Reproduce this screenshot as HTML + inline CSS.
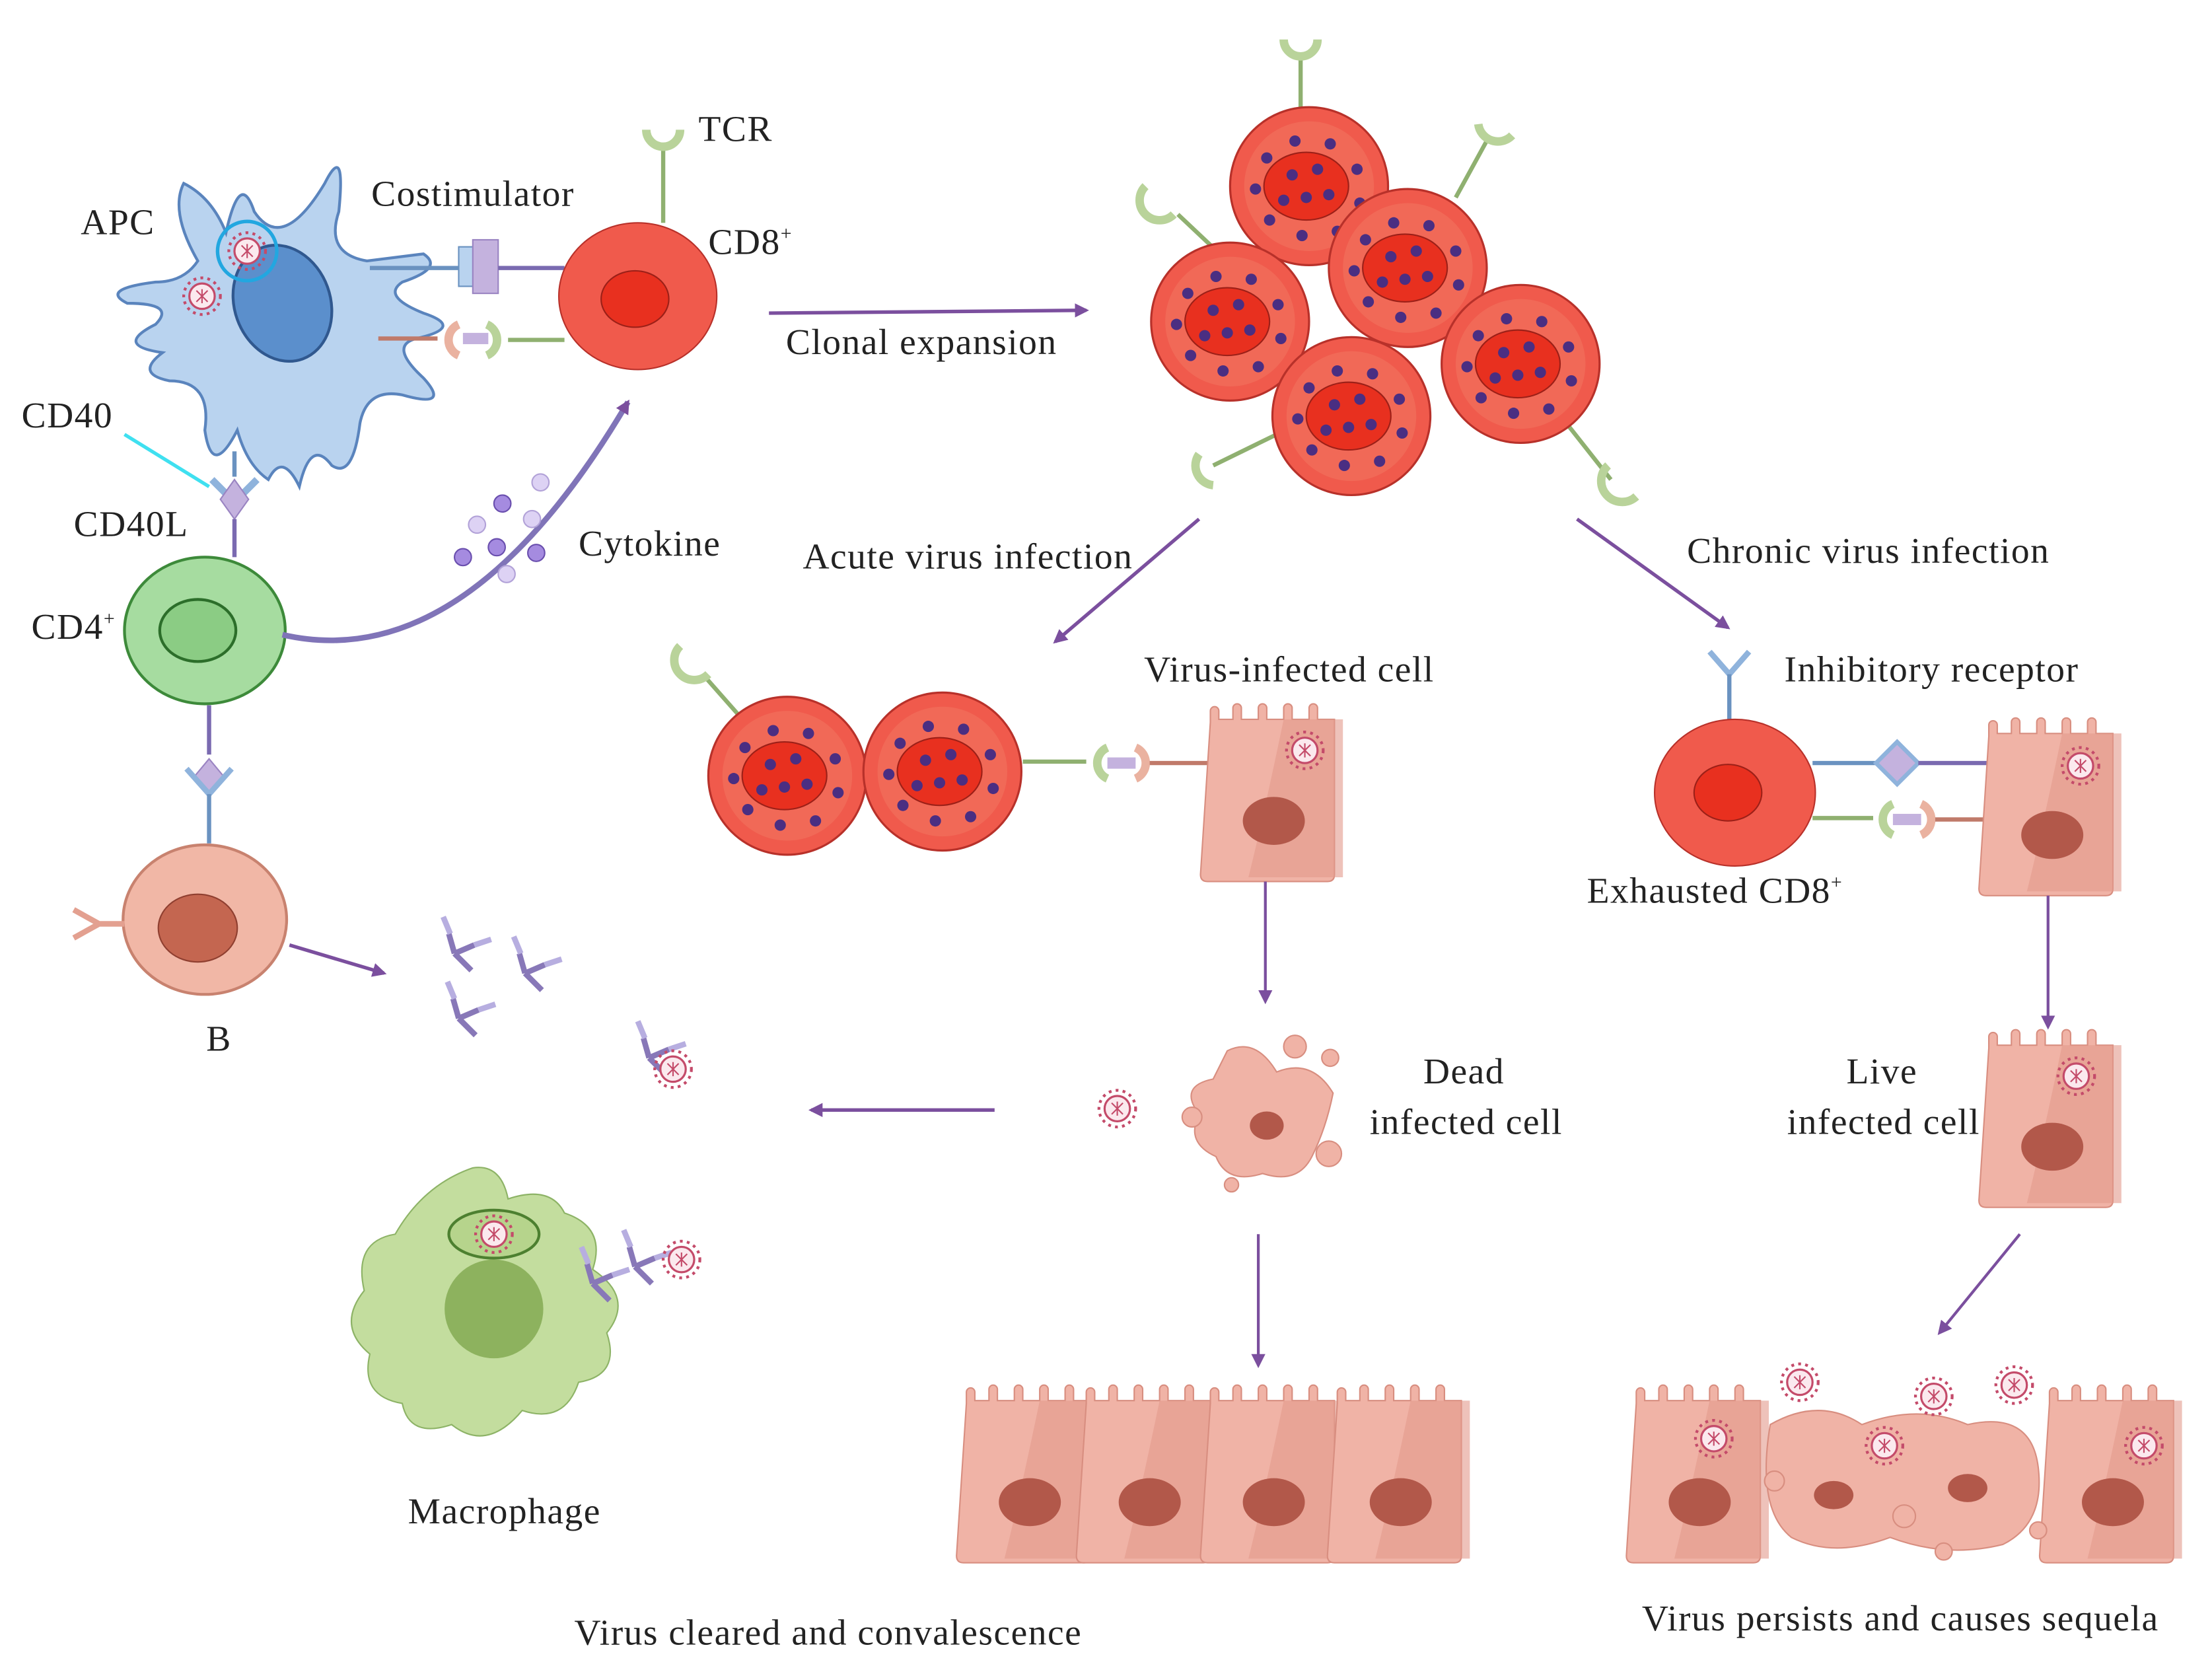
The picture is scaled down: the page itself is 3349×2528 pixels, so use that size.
<!DOCTYPE html>
<html><head><meta charset="utf-8"><style>html,body{margin:0;padding:0;background:#fff}svg{display:block}text{font-family:"Liberation Serif",serif;font-size:26px;letter-spacing:0.7px;fill:#222}</style></head><body>
<svg width="3349" height="2528" viewBox="0 0 1568 1184" xmlns="http://www.w3.org/2000/svg">
<defs>
<marker id="ah" markerWidth="10" markerHeight="10" refX="8" refY="5" orient="auto" markerUnits="userSpaceOnUse"><path d="M0,0 L10,5 L0,10 z" fill="#7b4f9e"/></marker>
<g id="vir"><circle r="13" fill="none" stroke="#c44b6a" stroke-width="2" stroke-dasharray="2 3"/><circle r="9" fill="#fbe9ee" stroke="#c44b6a" stroke-width="1.5"/><path d="M-4,-4 L4,4 M-4,4 L4,-4 M0,-5 L0,5" stroke="#c44b6a" stroke-width="1"/></g>
<g id="rc"><circle r="56" fill="#f05a4c" stroke="#b8312a" stroke-width="1.5"/><circle r="46" fill="#f2735f" opacity=".6"/><ellipse cx="-2" cy="0" rx="30" ry="24" fill="#e8301f" stroke="#9c2018"/>
<g fill="#4a2e82"><circle cx="-30" cy="-20" r="4"/><circle cx="-10" cy="-32" r="4"/><circle cx="15" cy="-30" r="4"/><circle cx="34" cy="-12" r="4"/><circle cx="36" cy="12" r="4"/><circle cx="20" cy="32" r="4"/><circle cx="-5" cy="35" r="4"/><circle cx="-28" cy="24" r="4"/><circle cx="-38" cy="2" r="4"/><circle cx="-12" cy="-8" r="4"/><circle cx="6" cy="-12" r="4"/><circle cx="-2" cy="8" r="4"/><circle cx="14" cy="6" r="4"/><circle cx="-18" cy="10" r="4"/></g></g>
<g id="ep"><path d="M-47,-50 l0,-8 a3,3 0 0 1 6,0 l0,6 l10,0 l0,-8 a3,3 0 0 1 6,0 l0,8 l12,0 l0,-8 a3,3 0 0 1 6,0 l0,8 l12,0 l0,-8 a3,3 0 0 1 6,0 l0,8 l12,0 l0,-8 a3,3 0 0 1 6,0 l0,8 l12,0 l0,110 q0,5 -5,5 l-85,0 q-5,0 -5,-5 z" fill="#f0b3a6" stroke="#d88e80"/><path d="M5,-52 L47,-52 L47,60 L-20,60 Q-10,20 5,-52z" fill="#e39a8c" opacity=".6"/><ellipse cx="-2" cy="20" rx="22" ry="17" fill="#b2584a"/></g>
<g id="ab"><path d="M0,0 L12,12 M0,0 L-4,-14 M0,0 L14,-6" stroke="#8878b8" stroke-width="4"/><path d="M-3,-14 L-8,-26 M14,-6 L26,-10" stroke="#b7aee0" stroke-width="4"/></g>
</defs>

<path d="M130,130 Q150,140 160,165 Q170,120 180,150 Q200,180 230,130 Q245,100 240,150 Q230,180 260,185 L300,180 Q315,190 285,200 Q270,210 300,222 Q330,232 295,240 Q275,245 300,268 Q320,290 285,280 Q260,275 255,300 Q250,340 235,330 Q220,310 212,345 Q200,320 190,340 Q175,330 168,305 Q150,340 145,305 Q150,270 120,270 Q95,265 115,250 Q80,245 110,230 Q125,215 90,215 Q70,205 110,200 Q130,200 140,185 Q120,150 130,130z" fill="#b9d3ef" stroke="#5a84bd" stroke-width="2"/>
<ellipse cx="200" cy="215" rx="34" ry="42" fill="#5b8fcc" stroke="#30588f" stroke-width="2" transform="rotate(-20 200 215)"/>
<circle cx="175" cy="178" r="21" fill="none" stroke="#22a7e0" stroke-width="2.5"/>
<use href="#vir" x="175" y="178"/><use href="#vir" x="143" y="210"/>
<line x1="262" y1="190" x2="325" y2="190" stroke="#6a92c0" stroke-width="3"/><rect x="325" y="175" width="18" height="28" fill="#b9d3ef" stroke="#6a92c0"/><rect x="335" y="170" width="18" height="38" fill="#c4b2de" stroke="#9a84c2"/>
<line x1="353" y1="190" x2="400" y2="190" stroke="#7a6ab0" stroke-width="3"/>
<line x1="268" y1="240" x2="310" y2="240" stroke="#c07a6a" stroke-width="3"/><path d="M325,230 a12,12 0 0 0 0,22" fill="none" stroke="#eab2a0" stroke-width="6"/><path d="M345,230 a12,12 0 0 1 0,22" fill="none" stroke="#b9d39a" stroke-width="6"/><rect x="328" y="236" width="18" height="8" fill="#c4b2de"/>
<line x1="360" y1="241" x2="400" y2="241" stroke="#8fb070" stroke-width="3"/>
<line x1="470" y1="105" x2="470" y2="158" stroke="#8fb070" stroke-width="3"/><path d="M458,92 a12,12 0 0 0 24,0" fill="none" stroke="#b9d39a" stroke-width="6"/>
<ellipse cx="452" cy="210" rx="56" ry="52" fill="#f05a4c" stroke="#b8312a"/><ellipse cx="450" cy="212" rx="24" ry="20" fill="#e8301f" stroke="#9c2018"/>
<line x1="88" y1="308" x2="148" y2="345" stroke="#3fe0f0" stroke-width="2.5"/>
<line x1="166" y1="320" x2="166" y2="338" stroke="#6a92c0" stroke-width="3"/><path d="M150,340 L166,356 L182,340" fill="none" stroke="#8fb3dc" stroke-width="5"/><path d="M166,340 L176,354 L166,368 L156,354z" fill="#c4b2de" stroke="#9a84c2"/>
<line x1="166" y1="368" x2="166" y2="395" stroke="#7a6ab0" stroke-width="3"/>
<ellipse cx="145" cy="447" rx="57" ry="52" fill="#a6dca0" stroke="#3d8a3a" stroke-width="2"/><ellipse cx="140" cy="447" rx="27" ry="22" fill="#8bcc84" stroke="#2c6e2a" stroke-width="2"/>
<path d="M200,450 Q330,480 445,285" fill="none" stroke="#8074b8" stroke-width="4" marker-end="url(#ah)"/>
<g fill="#a58be0" stroke="#6a4fae"><circle cx="356" cy="357" r="6"/><circle cx="328" cy="395" r="6"/><circle cx="352" cy="388" r="6"/><circle cx="380" cy="392" r="6"/></g>
<g fill="#ddd2f4" stroke="#b2a2d8"><circle cx="383" cy="342" r="6"/><circle cx="338" cy="372" r="6"/><circle cx="377" cy="368" r="6"/><circle cx="359" cy="407" r="6"/></g>
<line x1="148" y1="500" x2="148" y2="535" stroke="#7a6ab0" stroke-width="3"/><path d="M148,538 L158,550 L148,562 L138,550z" fill="#c4b2de" stroke="#9a84c2"/><path d="M132,545 L148,563 L164,545" fill="none" stroke="#8fb3dc" stroke-width="4"/><line x1="148" y1="563" x2="148" y2="598" stroke="#6a92c0" stroke-width="3"/>
<ellipse cx="145" cy="652" rx="58" ry="53" fill="#f1b7a6" stroke="#c8826f" stroke-width="2"/><ellipse cx="140" cy="658" rx="28" ry="24" fill="#c46650" stroke="#8f3f30"/>
<path d="M88,655 L70,655 M70,655 L52,645 M70,655 L52,665" stroke="#e3a090" stroke-width="4" fill="none"/>
<line x1="205" y1="670" x2="272" y2="690" stroke="#7b4f9e" stroke-width="2.5" marker-end="url(#ah)"/>
<use href="#ab" x="322" y="676"/><use href="#ab" x="372" y="690"/><use href="#ab" x="325" y="722"/><use href="#ab" x="460" y="750"/><use href="#vir" x="477" y="758"/>
<line x1="705" y1="787" x2="575" y2="787" stroke="#7b4f9e" stroke-width="2.5" marker-end="url(#ah)"/>
<path d="M335,828 Q355,825 360,850 Q390,840 400,860 Q430,870 420,900 Q450,920 430,945 Q440,975 410,980 Q400,1010 370,1000 Q345,1030 320,1010 Q290,1020 285,995 Q255,990 262,960 Q238,940 258,915 Q250,880 280,875 Q300,840 335,828z" fill="#c3dd9e" stroke="#8db366"/>
<circle cx="350" cy="928" r="35" fill="#7fa84e" opacity=".8"/><ellipse cx="350" cy="875" rx="32" ry="17" fill="#b6d48c" stroke="#4d8030" stroke-width="2"/><use href="#vir" x="350" y="875"/>
<use href="#ab" x="420" y="910"/><use href="#ab" x="450" y="898"/><use href="#vir" x="483" y="893"/>
<line x1="545" y1="222" x2="770" y2="220" stroke="#7b4f9e" stroke-width="2.5" marker-end="url(#ah)"/>
<g stroke="#8fb070" stroke-width="3" fill="none"><line x1="922" y1="78" x2="922" y2="40"/><line x1="870" y1="185" x2="835" y2="152"/><line x1="1032" y1="140" x2="1055" y2="98"/><line x1="905" y1="308" x2="860" y2="330"/><line x1="1112" y1="302" x2="1142" y2="340"/><line x1="528" y1="512" x2="498" y2="478"/></g>
<g fill="none" stroke="#b9d39a" stroke-width="6"><path d="M910,28 a12,12 0 0 0 24,0"/><path d="M812,132 a14,14 0 0 0 20,20"/><path d="M1048,88 a14,14 0 0 0 24,8"/><path d="M850,322 a14,14 0 0 0 10,22"/><path d="M1140,330 a14,14 0 0 0 20,22"/><path d="M482,458 a14,14 0 0 0 20,20"/><path d="M1212,462 l14,16 l14,-16" stroke="#8fb3dc" stroke-width="4"/></g>
<use href="#rc" x="928" y="132"/><use href="#rc" x="998" y="190"/><use href="#rc" x="872" y="228"/><use href="#rc" x="1078" y="258"/><use href="#rc" x="958" y="295"/>
<line x1="850" y1="368" x2="748" y2="455" stroke="#7b4f9e" stroke-width="2.5" marker-end="url(#ah)"/>
<line x1="1118" y1="368" x2="1225" y2="445" stroke="#7b4f9e" stroke-width="2.5" marker-end="url(#ah)"/>
<use href="#rc" x="558" y="550"/><use href="#rc" x="668" y="547"/>
<line x1="725" y1="540" x2="770" y2="540" stroke="#8fb070" stroke-width="3"/><path d="M785,530 a12,12 0 0 0 0,22" fill="none" stroke="#b9d39a" stroke-width="6"/><path d="M805,530 a12,12 0 0 1 0,22" fill="none" stroke="#eab2a0" stroke-width="6"/><rect x="785" y="537" width="20" height="8" fill="#c4b2de"/><line x1="815" y1="541" x2="858" y2="541" stroke="#c07a6a" stroke-width="3"/>
<use href="#ep" x="905" y="562"/><use href="#vir" x="925" y="532"/>
<line x1="897" y1="625" x2="897" y2="710" stroke="#7b4f9e" stroke-width="2" marker-end="url(#ah)"/>
<use href="#vir" x="792" y="786"/>
<path d="M870,745 Q890,735 905,760 Q930,750 945,775 Q940,800 930,820 Q920,840 895,832 Q870,840 862,820 Q840,810 850,790 Q835,770 860,765z" fill="#f0b3a6" stroke="#d88e80"/><ellipse cx="898" cy="798" rx="12" ry="10" fill="#b2584a"/>
<g fill="#f0b3a6" stroke="#d88e80"><circle cx="918" cy="742" r="8"/><circle cx="943" cy="750" r="6"/><circle cx="845" cy="792" r="7"/><circle cx="942" cy="818" r="9"/><circle cx="873" cy="840" r="5"/></g>
<line x1="892" y1="875" x2="892" y2="968" stroke="#7b4f9e" stroke-width="2" marker-end="url(#ah)"/>
<use href="#ep" x="732" y="1045"/><use href="#ep" x="817" y="1045"/><use href="#ep" x="905" y="1045"/><use href="#ep" x="995" y="1045"/>
<line x1="1226" y1="478" x2="1226" y2="512" stroke="#6a92c0" stroke-width="3"/>
<ellipse cx="1230" cy="562" rx="57" ry="52" fill="#f05a4c" stroke="#b8312a"/><ellipse cx="1225" cy="562" rx="24" ry="20" fill="#e8301f" stroke="#9c2018"/>
<line x1="1285" y1="541" x2="1330" y2="541" stroke="#6a92c0" stroke-width="3"/><path d="M1330,541 l15,-15 l15,15 l-15,15z" fill="#c4b2de" stroke="#8fb3dc" stroke-width="3"/><line x1="1360" y1="541" x2="1410" y2="541" stroke="#7a6ab0" stroke-width="3"/>
<line x1="1285" y1="580" x2="1328" y2="580" stroke="#8fb070" stroke-width="3"/><path d="M1342,570 a12,12 0 0 0 0,22" fill="none" stroke="#b9d39a" stroke-width="6"/><path d="M1362,570 a12,12 0 0 1 0,22" fill="none" stroke="#eab2a0" stroke-width="6"/><rect x="1342" y="577" width="20" height="8" fill="#c4b2de"/><line x1="1372" y1="581" x2="1410" y2="581" stroke="#c07a6a" stroke-width="3"/>
<use href="#ep" x="1457" y="572"/><use href="#vir" x="1475" y="543"/>
<line x1="1452" y1="635" x2="1452" y2="728" stroke="#7b4f9e" stroke-width="2" marker-end="url(#ah)"/>
<use href="#ep" x="1457" y="793"/><use href="#vir" x="1472" y="763"/>
<line x1="1432" y1="875" x2="1375" y2="945" stroke="#7b4f9e" stroke-width="2" marker-end="url(#ah)"/>
<use href="#ep" x="1207" y="1045"/><use href="#ep" x="1500" y="1045"/>
<path d="M1255,1010 Q1290,990 1320,1010 Q1360,995 1395,1010 Q1440,1000 1445,1040 Q1450,1080 1420,1095 Q1380,1105 1340,1090 Q1300,1105 1270,1090 Q1245,1070 1255,1010z" fill="#f0b3a6" stroke="#d88e80"/>
<g fill="#b2584a"><ellipse cx="1300" cy="1060" rx="14" ry="10"/><ellipse cx="1395" cy="1055" rx="14" ry="10"/></g>
<g fill="#f0b3a6" stroke="#d88e80"><circle cx="1258" cy="1050" r="7"/><circle cx="1350" cy="1075" r="8"/><circle cx="1378" cy="1100" r="6"/><circle cx="1445" cy="1085" r="6"/></g>
<use href="#vir" x="1215" y="1020"/><use href="#vir" x="1276" y="980"/><use href="#vir" x="1336" y="1025"/><use href="#vir" x="1371" y="990"/><use href="#vir" x="1428" y="982"/><use href="#vir" x="1520" y="1025"/>
<text x="57" y="166">APC</text><text x="263" y="146">Costimulator</text><text x="495" y="100">TCR</text><text x="502" y="180">CD8<tspan font-size="14" dy="-10">+</tspan></text>
<text x="15" y="303">CD40</text><text x="52" y="380">CD40L</text><text x="22" y="453">CD4<tspan font-size="14" dy="-10">+</tspan></text>
<text x="410" y="394">Cytokine</text><text x="557" y="251">Clonal expansion</text>
<text x="569" y="403">Acute virus infection</text><text x="1196" y="399">Chronic virus infection</text>
<text x="811" y="483">Virus-infected cell</text><text x="1265" y="483">Inhibitory receptor</text>
<text x="1125" y="640">Exhausted CD8<tspan font-size="14" dy="-10">+</tspan></text>
<text x="146" y="745">B</text>
<text x="1009" y="768">Dead</text><text x="971" y="804">infected cell</text>
<text x="1309" y="768">Live</text><text x="1267" y="804">infected cell</text>
<text x="289" y="1080">Macrophage</text>
<text x="407" y="1166">Virus cleared and convalescence</text>
<text x="1164" y="1156">Virus persists and causes sequela</text>
</svg>
</body></html>
